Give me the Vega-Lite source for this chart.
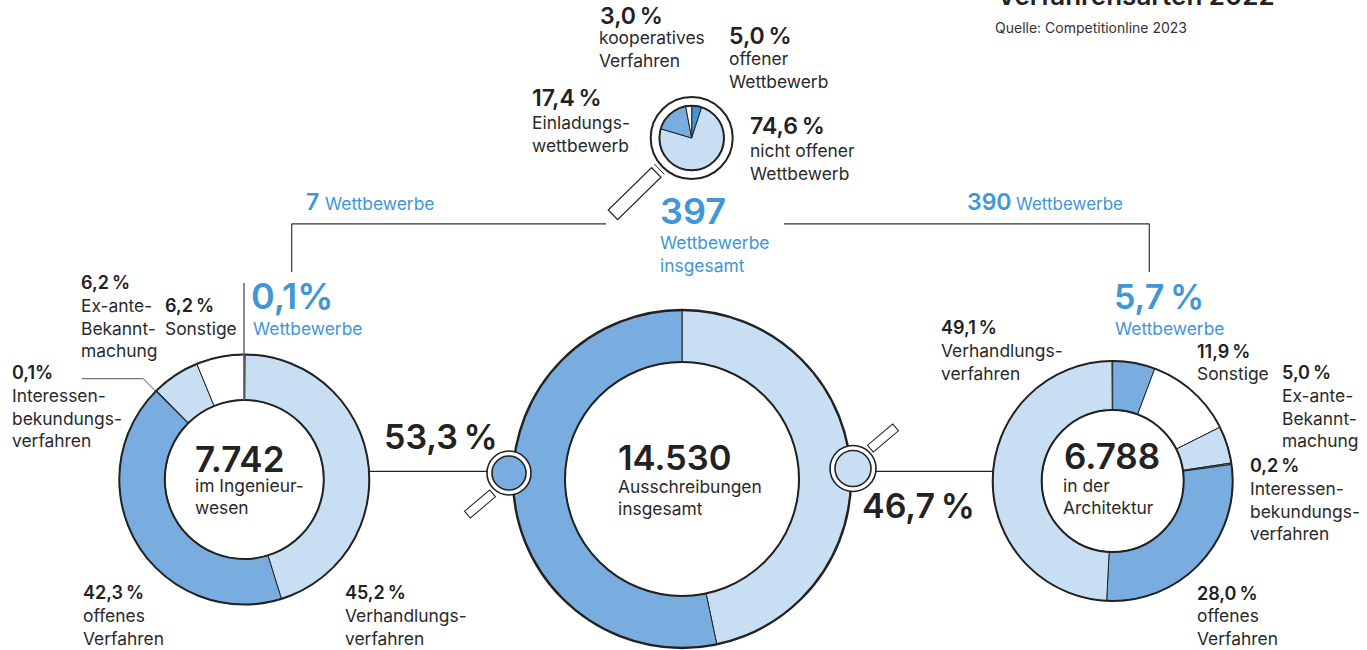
{"$schema":"https://vega.github.io/schema/vega-lite/v6.json","width":1367,"height":650,"padding":0,"autosize":{"type":"none"},"background":"white",
"config":{"view":{"stroke":null},"text":{"align":"left","baseline":"alphabetic","font":"Inter","lineBreak":"\n"},
"style":{"pct":{"fontSize":18,"fontWeight":600,"color":"#222222"},"pcttop":{"fontSize":23,"fontWeight":600,"color":"#222222"},"body":{"fontSize":17.4,"fontWeight":400,"color":"#2a2a2a","lineHeight":22.6},"big":{"fontSize":35,"fontWeight":600,"color":"#222222"},"bluebig":{"fontSize":36,"fontWeight":600,"color":"#4096d6"},"bluemid":{"fontSize":23,"fontWeight":600,"color":"#4096d6"},"bluebody":{"fontSize":17.4,"fontWeight":400,"color":"#4096d6","lineHeight":22.6}}},
"datasets":{"one":[{"k":"x"}]},
"data":{"values":[
{"id":"L1","chart":"links","i":0,"kategorie":"Verhandlungsverfahren","share":45.2,"pct":"45,2\u2009%","zeilen":"Verhandlungs-\nverfahren"},
{"id":"L2","chart":"links","i":1,"kategorie":"offenes Verfahren","share":42.3,"pct":"42,3\u2009%","zeilen":"offenes\nVerfahren"},
{"id":"L3","chart":"links","i":2,"kategorie":"Interessenbekundungsverfahren","share":0.1,"pct":"0,1%","zeilen":"Interessen-\nbekundungs-\nverfahren"},
{"id":"L4","chart":"links","i":3,"kategorie":"Ex-ante-Bekanntmachung","share":6.2,"pct":"6,2\u2009%","zeilen":"Ex-ante-\nBekannt-\nmachung"},
{"id":"L5","chart":"links","i":4,"kategorie":"Sonstige","share":6.2,"pct":"6,2\u2009%","zeilen":"Sonstige"},
{"id":"L6","chart":"links","i":5,"kategorie":"Wettbewerbe","share":0.1,"pct":"0,1%","zeilen":"Wettbewerbe"},
{"id":"M1","chart":"mitte","i":0,"kategorie":"Architektur","share":46.7,"pct":"46,7\u2009%","zeilen":""},
{"id":"M2","chart":"mitte","i":1,"kategorie":"Ingenieurwesen","share":53.3,"pct":"53,3\u2009%","zeilen":""},
{"id":"R1","chart":"rechts","i":0,"kategorie":"Wettbewerbe","share":5.7,"pct":"5,7\u2009%","zeilen":"Wettbewerbe"},
{"id":"R2","chart":"rechts","i":1,"kategorie":"Sonstige","share":11.9,"pct":"11,9\u2009%","zeilen":"Sonstige"},
{"id":"R3","chart":"rechts","i":2,"kategorie":"Ex-ante-Bekanntmachung","share":5.0,"pct":"5,0\u2009%","zeilen":"Ex-ante-\nBekannt-\nmachung"},
{"id":"R4","chart":"rechts","i":3,"kategorie":"Interessenbekundungsverfahren","share":0.2,"pct":"0,2\u2009%","zeilen":"Interessen-\nbekundungs-\nverfahren"},
{"id":"R5","chart":"rechts","i":4,"kategorie":"offenes Verfahren","share":28.0,"pct":"28,0\u2009%","zeilen":"offenes\nVerfahren"},
{"id":"R6","chart":"rechts","i":5,"kategorie":"Verhandlungsverfahren","share":49.1,"pct":"49,1\u2009%","zeilen":"Verhandlungs-\nverfahren"},
{"id":"W1","chart":"wettbewerbe","i":0,"kategorie":"offener Wettbewerb","share":5.0,"pct":"5,0\u2009%","zeilen":"offener\nWettbewerb"},
{"id":"W2","chart":"wettbewerbe","i":1,"kategorie":"nicht offener Wettbewerb","share":74.6,"pct":"74,6\u2009%","zeilen":"nicht offener\nWettbewerb"},
{"id":"W3","chart":"wettbewerbe","i":2,"kategorie":"Einladungswettbewerb","share":17.4,"pct":"17,4\u2009%","zeilen":"Einladungs-\nwettbewerb"},
{"id":"W4","chart":"wettbewerbe","i":3,"kategorie":"kooperatives Verfahren","share":3.0,"pct":"3,0\u2009%","zeilen":"kooperatives\nVerfahren"}
]},
"layer":[
{"data":{"name":"one"},"mark":{"type":"rule","stroke":"#333333","strokeWidth":1.2},"encoding":{"x":{"value":291.7},"x2":{"value":606},"y":{"value":223.8},"y2":{"value":223.8}}},
{"data":{"name":"one"},"mark":{"type":"rule","stroke":"#333333","strokeWidth":1.2},"encoding":{"x":{"value":784},"x2":{"value":1149.3},"y":{"value":223.8},"y2":{"value":223.8}}},
{"data":{"name":"one"},"mark":{"type":"rule","stroke":"#333333","strokeWidth":1.2},"encoding":{"x":{"value":291.7},"x2":{"value":291.7},"y":{"value":223.8},"y2":{"value":272}}},
{"data":{"name":"one"},"mark":{"type":"rule","stroke":"#333333","strokeWidth":1.2},"encoding":{"x":{"value":1149.3},"x2":{"value":1149.3},"y":{"value":223.8},"y2":{"value":272}}},
{"data":{"name":"one"},"mark":{"type":"rule","stroke":"#222222","strokeWidth":1.2},"encoding":{"x":{"value":369},"x2":{"value":488},"y":{"value":471.3},"y2":{"value":471.3}}},
{"data":{"name":"one"},"mark":{"type":"rule","stroke":"#222222","strokeWidth":1.2},"encoding":{"x":{"value":875},"x2":{"value":993},"y":{"value":471.3},"y2":{"value":471.3}}},
{"data":{"name":"one"},"mark":{"type":"rule","stroke":"#555555","strokeWidth":1},"encoding":{"x":{"value":81.7},"x2":{"value":143.3},"y":{"value":378.7},"y2":{"value":378.7}}},
{"data":{"name":"one"},"mark":{"type":"rule","stroke":"#555555","strokeWidth":1},"encoding":{"x":{"value":143.3},"x2":{"value":156},"y":{"value":378.7},"y2":{"value":391.7}}},

{"transform":[{"filter":"datum.chart==='mitte'"}],"mark":{"type":"arc","innerRadius":117,"outerRadius":169,"stroke":"#222222","strokeWidth":1},"encoding":{"x":{"value":682},"y":{"value":479},"theta":{"field":"share","type":"quantitative","stack":true,"scale":{"domain":[0,100]}},"order":{"field":"i","type":"ordinal"},"color":{"field":"kategorie","type":"nominal","legend":null,"scale":{"domain":["Verhandlungsverfahren","offenes Verfahren","Interessenbekundungsverfahren","Ex-ante-Bekanntmachung","Sonstige","Wettbewerbe","Architektur","Ingenieurwesen","offener Wettbewerb","nicht offener Wettbewerb","Einladungswettbewerb","kooperatives Verfahren"],"range":["#c8dff3","#79acdf","#79acdf","#c8dff3","#ffffff","#79acdf","#c8dff3","#79acdf","#4096d6","#c8dff3","#79acdf","#ffffff"]}}}},
{"transform":[{"filter":"datum.chart==='links'"}],"mark":{"type":"arc","innerRadius":79.5,"outerRadius":125,"stroke":"#222222","strokeWidth":1},"encoding":{"x":{"value":244.3},"y":{"value":479.5},"theta":{"field":"share","type":"quantitative","stack":true},"order":{"field":"i","type":"ordinal"},"color":{"field":"kategorie","type":"nominal","legend":null}}},
{"transform":[{"filter":"datum.chart==='rechts'"}],"mark":{"type":"arc","innerRadius":71,"outerRadius":120,"stroke":"#222222","strokeWidth":1},"encoding":{"x":{"value":1112.7},"y":{"value":481},"theta":{"field":"share","type":"quantitative","stack":true},"order":{"field":"i","type":"ordinal"},"color":{"field":"kategorie","type":"nominal","legend":null}}},

{"data":{"name":"one"},"mark":{"type":"point","shape":"circle","filled":false,"size":114244,"stroke":"#222222","strokeWidth":2.4,"opacity":1},"encoding":{"x":{"value":682},"y":{"value":479}}},
{"data":{"name":"one"},"mark":{"type":"point","shape":"circle","filled":false,"size":54756,"stroke":"#222222","strokeWidth":2,"opacity":1},"encoding":{"x":{"value":682},"y":{"value":479}}},
{"data":{"name":"one"},"mark":{"type":"point","shape":"circle","filled":false,"size":62500,"stroke":"#222222","strokeWidth":2,"opacity":1},"encoding":{"x":{"value":244.3},"y":{"value":479.5}}},
{"data":{"name":"one"},"mark":{"type":"point","shape":"circle","filled":false,"size":25281,"stroke":"#222222","strokeWidth":2,"opacity":1},"encoding":{"x":{"value":244.3},"y":{"value":479.5}}},
{"data":{"name":"one"},"mark":{"type":"point","shape":"circle","filled":false,"size":57600,"stroke":"#222222","strokeWidth":2,"opacity":1},"encoding":{"x":{"value":1112.7},"y":{"value":481}}},
{"data":{"name":"one"},"mark":{"type":"point","shape":"circle","filled":false,"size":20164,"stroke":"#222222","strokeWidth":2,"opacity":1},"encoding":{"x":{"value":1112.7},"y":{"value":481}}},
{"data":{"name":"one"},"mark":{"type":"rule","stroke":"#666666","strokeWidth":1.5},"encoding":{"x":{"value":244},"x2":{"value":244},"y":{"value":283},"y2":{"value":400}}},

{"data":{"name":"one"},"mark":{"type":"rule","stroke":"#222222","strokeWidth":14.6},"encoding":{"x":{"value":656.7},"x2":{"value":612.5},"y":{"value":172},"y2":{"value":215.3}}},
{"data":{"name":"one"},"mark":{"type":"rule","stroke":"#ffffff","strokeWidth":12.2},"encoding":{"x":{"value":655.8},"x2":{"value":613.4},"y":{"value":172.9},"y2":{"value":214.4}}},
{"data":{"name":"one"},"mark":{"type":"rule","stroke":"#222222","strokeWidth":1},"encoding":{"x":{"value":654.3},"x2":{"value":664.3},"y":{"value":164},"y2":{"value":174.3}}},
{"data":{"name":"one"},"mark":{"type":"circle","size":6724,"fill":"#ffffff","stroke":"#222222","strokeWidth":2,"opacity":1},"encoding":{"x":{"value":691.7},"y":{"value":138}}},
{"transform":[{"filter":"datum.chart==='wettbewerbe'"}],"mark":{"type":"arc","innerRadius":0,"outerRadius":32.3,"stroke":"#222222","strokeWidth":1},"encoding":{"x":{"value":691.7},"y":{"value":138},"theta":{"field":"share","type":"quantitative","stack":true},"order":{"field":"i","type":"ordinal"},"color":{"field":"kategorie","type":"nominal","legend":null}}},
{"data":{"name":"one"},"mark":{"type":"point","shape":"circle","filled":false,"size":4173,"stroke":"#222222","strokeWidth":2,"opacity":1},"encoding":{"x":{"value":691.7},"y":{"value":138}}},

{"data":{"name":"one"},"mark":{"type":"rule","stroke":"#222222","strokeWidth":10},"encoding":{"x":{"value":493},"x2":{"value":467},"y":{"value":493},"y2":{"value":515}}},
{"data":{"name":"one"},"mark":{"type":"rule","stroke":"#ffffff","strokeWidth":8},"encoding":{"x":{"value":492.2},"x2":{"value":467.8},"y":{"value":493.7},"y2":{"value":514.3}}},
{"data":{"name":"one"},"mark":{"type":"circle","size":1936,"fill":"#ffffff","stroke":"#222222","strokeWidth":1.6,"opacity":1},"encoding":{"x":{"value":509},"y":{"value":473}}},
{"data":{"name":"one"},"mark":{"type":"circle","size":1156,"fill":"#79acdf","stroke":"#222222","strokeWidth":1.6,"opacity":1},"encoding":{"x":{"value":509},"y":{"value":473}}},
{"data":{"name":"one"},"mark":{"type":"rule","stroke":"#222222","strokeWidth":10},"encoding":{"x":{"value":870},"x2":{"value":896},"y":{"value":449},"y2":{"value":427}}},
{"data":{"name":"one"},"mark":{"type":"rule","stroke":"#ffffff","strokeWidth":8},"encoding":{"x":{"value":870.8},"x2":{"value":895.2},"y":{"value":448.3},"y2":{"value":427.7}}},
{"data":{"name":"one"},"mark":{"type":"circle","size":2116,"fill":"#ffffff","stroke":"#222222","strokeWidth":1.6,"opacity":1},"encoding":{"x":{"value":853},"y":{"value":468.5}}},
{"data":{"name":"one"},"mark":{"type":"circle","size":1296,"fill":"#c8dff3","stroke":"#222222","strokeWidth":1.6,"opacity":1},"encoding":{"x":{"value":853},"y":{"value":468.5}}},

{"transform":[{"filter":"datum.id==='W4'"}],"mark":{"type":"text","style":"pcttop"},"encoding":{"x":{"value":600},"y":{"value":23.5},"text":{"field":"pct"}}},
{"transform":[{"filter":"datum.id==='W4'"}],"mark":{"type":"text","style":"body"},"encoding":{"x":{"value":599},"y":{"value":44},"text":{"field":"zeilen"}}},
{"transform":[{"filter":"datum.id==='W1'"}],"mark":{"type":"text","style":"pcttop"},"encoding":{"x":{"value":729},"y":{"value":44},"text":{"field":"pct"}}},
{"transform":[{"filter":"datum.id==='W1'"}],"mark":{"type":"text","style":"body"},"encoding":{"x":{"value":729},"y":{"value":65},"text":{"field":"zeilen"}}},
{"transform":[{"filter":"datum.id==='W3'"}],"mark":{"type":"text","style":"pcttop"},"encoding":{"x":{"value":532},"y":{"value":106},"text":{"field":"pct"}}},
{"transform":[{"filter":"datum.id==='W3'"}],"mark":{"type":"text","style":"body"},"encoding":{"x":{"value":532},"y":{"value":129},"text":{"field":"zeilen"}}},
{"transform":[{"filter":"datum.id==='W2'"}],"mark":{"type":"text","style":"pcttop"},"encoding":{"x":{"value":750},"y":{"value":134},"text":{"field":"pct"}}},
{"transform":[{"filter":"datum.id==='W2'"}],"mark":{"type":"text","style":"body"},"encoding":{"x":{"value":750},"y":{"value":157},"text":{"field":"zeilen"}}},

{"transform":[{"filter":"datum.id==='L4'"}],"mark":{"type":"text","style":"pct"},"encoding":{"x":{"value":81},"y":{"value":289},"text":{"field":"pct"}}},
{"transform":[{"filter":"datum.id==='L4'"}],"mark":{"type":"text","style":"body"},"encoding":{"x":{"value":81},"y":{"value":312},"text":{"field":"zeilen"}}},
{"transform":[{"filter":"datum.id==='L5'"}],"mark":{"type":"text","style":"pct"},"encoding":{"x":{"value":165},"y":{"value":312},"text":{"field":"pct"}}},
{"transform":[{"filter":"datum.id==='L5'"}],"mark":{"type":"text","style":"body"},"encoding":{"x":{"value":165},"y":{"value":335},"text":{"field":"zeilen"}}},
{"transform":[{"filter":"datum.id==='L3'"}],"mark":{"type":"text","style":"pct"},"encoding":{"x":{"value":12},"y":{"value":379},"text":{"field":"pct"}}},
{"transform":[{"filter":"datum.id==='L3'"}],"mark":{"type":"text","style":"body"},"encoding":{"x":{"value":12},"y":{"value":402},"text":{"field":"zeilen"}}},
{"transform":[{"filter":"datum.id==='L2'"}],"mark":{"type":"text","style":"pct"},"encoding":{"x":{"value":83},"y":{"value":599},"text":{"field":"pct"}}},
{"transform":[{"filter":"datum.id==='L2'"}],"mark":{"type":"text","style":"body"},"encoding":{"x":{"value":83},"y":{"value":622},"text":{"field":"zeilen"}}},
{"transform":[{"filter":"datum.id==='L1'"}],"mark":{"type":"text","style":"pct"},"encoding":{"x":{"value":345},"y":{"value":599},"text":{"field":"pct"}}},
{"transform":[{"filter":"datum.id==='L1'"}],"mark":{"type":"text","style":"body"},"encoding":{"x":{"value":345},"y":{"value":622},"text":{"field":"zeilen"}}},
{"transform":[{"filter":"datum.id==='L6'"}],"mark":{"type":"text","style":"bluebig"},"encoding":{"x":{"value":251},"y":{"value":309},"text":{"field":"pct"}}},
{"transform":[{"filter":"datum.id==='L6'"}],"mark":{"type":"text","style":"bluebody"},"encoding":{"x":{"value":253},"y":{"value":335},"text":{"field":"zeilen"}}},

{"transform":[{"filter":"datum.id==='R1'"}],"mark":{"type":"text","style":"bluebig","fontSize":34},"encoding":{"x":{"value":1114},"y":{"value":309},"text":{"field":"pct"}}},
{"transform":[{"filter":"datum.id==='R1'"}],"mark":{"type":"text","style":"bluebody"},"encoding":{"x":{"value":1115},"y":{"value":335},"text":{"field":"zeilen"}}},
{"transform":[{"filter":"datum.id==='R6'"}],"mark":{"type":"text","style":"pct"},"encoding":{"x":{"value":941},"y":{"value":334},"text":{"field":"pct"}}},
{"transform":[{"filter":"datum.id==='R6'"}],"mark":{"type":"text","style":"body"},"encoding":{"x":{"value":941},"y":{"value":357},"text":{"field":"zeilen"}}},
{"transform":[{"filter":"datum.id==='R2'"}],"mark":{"type":"text","style":"pct"},"encoding":{"x":{"value":1197},"y":{"value":357.5},"text":{"field":"pct"}}},
{"transform":[{"filter":"datum.id==='R2'"}],"mark":{"type":"text","style":"body"},"encoding":{"x":{"value":1197},"y":{"value":380},"text":{"field":"zeilen"}}},
{"transform":[{"filter":"datum.id==='R3'"}],"mark":{"type":"text","style":"pct"},"encoding":{"x":{"value":1282},"y":{"value":379},"text":{"field":"pct"}}},
{"transform":[{"filter":"datum.id==='R3'"}],"mark":{"type":"text","style":"body"},"encoding":{"x":{"value":1282},"y":{"value":402},"text":{"field":"zeilen"}}},
{"transform":[{"filter":"datum.id==='R4'"}],"mark":{"type":"text","style":"pct"},"encoding":{"x":{"value":1250},"y":{"value":472},"text":{"field":"pct"}}},
{"transform":[{"filter":"datum.id==='R4'"}],"mark":{"type":"text","style":"body"},"encoding":{"x":{"value":1250},"y":{"value":495},"text":{"field":"zeilen"}}},
{"transform":[{"filter":"datum.id==='R5'"}],"mark":{"type":"text","style":"pct"},"encoding":{"x":{"value":1197},"y":{"value":600},"text":{"field":"pct"}}},
{"transform":[{"filter":"datum.id==='R5'"}],"mark":{"type":"text","style":"body"},"encoding":{"x":{"value":1197},"y":{"value":622},"text":{"field":"zeilen"}}},

{"transform":[{"filter":"datum.id==='M2'"}],"mark":{"type":"text","style":"big","fontSize":34},"encoding":{"x":{"value":384},"y":{"value":449},"text":{"field":"pct"}}},
{"transform":[{"filter":"datum.id==='M1'"}],"mark":{"type":"text","style":"big","fontSize":34},"encoding":{"x":{"value":862},"y":{"value":518},"text":{"field":"pct"}}},

{"data":{"values":[{"t":"7.742"}]},"mark":{"type":"text","style":"big"},"encoding":{"x":{"value":195},"y":{"value":472},"text":{"field":"t"}}},
{"data":{"values":[{"t":"im Ingenieur-\nwesen"}]},"mark":{"type":"text","style":"body"},"encoding":{"x":{"value":195},"y":{"value":491.5},"text":{"field":"t"}}},
{"data":{"values":[{"t":"14.530"}]},"mark":{"type":"text","style":"big","fontSize":34.5},"encoding":{"x":{"value":618},"y":{"value":470},"text":{"field":"t"}}},
{"data":{"values":[{"t":"Ausschreibungen\ninsgesamt"}]},"mark":{"type":"text","style":"body"},"encoding":{"x":{"value":618},"y":{"value":492.5},"text":{"field":"t"}}},
{"data":{"values":[{"t":"6.788"}]},"mark":{"type":"text","style":"big"},"encoding":{"x":{"value":1064},"y":{"value":469},"text":{"field":"t"}}},
{"data":{"values":[{"t":"in der\nArchitektur"}]},"mark":{"type":"text","style":"body"},"encoding":{"x":{"value":1063},"y":{"value":491.5},"text":{"field":"t"}}},
{"data":{"values":[{"t":"397"}]},"mark":{"type":"text","style":"bluebig"},"encoding":{"x":{"value":660},"y":{"value":224},"text":{"field":"t"}}},
{"data":{"values":[{"t":"Wettbewerbe\ninsgesamt"}]},"mark":{"type":"text","style":"bluebody"},"encoding":{"x":{"value":660},"y":{"value":249},"text":{"field":"t"}}},
{"data":{"values":[{"t":"7"}]},"mark":{"type":"text","style":"bluemid"},"encoding":{"x":{"value":306},"y":{"value":209.5},"text":{"field":"t"}}},
{"data":{"values":[{"t":"Wettbewerbe"}]},"mark":{"type":"text","style":"bluebody"},"encoding":{"x":{"value":325},"y":{"value":209.5},"text":{"field":"t"}}},
{"data":{"values":[{"t":"390"}]},"mark":{"type":"text","style":"bluemid"},"encoding":{"x":{"value":967},"y":{"value":209.5},"text":{"field":"t"}}},
{"data":{"values":[{"t":"Wettbewerbe"}]},"mark":{"type":"text","style":"bluebody","fontSize":17},"encoding":{"x":{"value":1016},"y":{"value":209.5},"text":{"field":"t"}}},
{"data":{"values":[{"t":"Verfahrensarten 2022"}]},"mark":{"type":"text","fontSize":26,"fontWeight":600,"color":"#222222"},"encoding":{"x":{"value":997},"y":{"value":4.5},"text":{"field":"t"}}},
{"data":{"values":[{"t":"Quelle: Competitionline 2023"}]},"mark":{"type":"text","fontSize":14,"color":"#333333"},"encoding":{"x":{"value":995},"y":{"value":33},"text":{"field":"t"}}}
]}
